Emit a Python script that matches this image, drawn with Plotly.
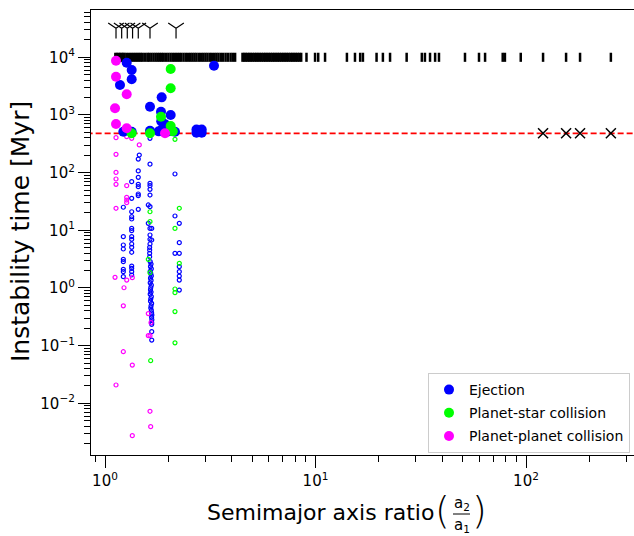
import plotly.graph_objects as go

# ---------------- data ----------------
THRESHOLD = 480          # Myr, red dashed line
STABLE_T = 1.0e4         # systems stable for the full run
BEYOND_T = 3.2e4         # systems marked with tri-down symbols

stable_x = [1.12, 1.14, 1.16, 1.18, 1.20, 1.22, 1.24, 1.27, 1.30, 1.33, 1.36, 1.39,
            1.42, 1.45, 1.48, 1.51, 1.55, 1.59, 1.62, 1.66, 1.70, 1.74, 1.78, 1.82,
            1.86, 1.90, 1.95, 2.00, 2.05, 2.10, 2.15, 2.20, 2.25, 2.30, 2.36, 2.42,
            2.48, 2.54, 2.60, 2.66, 2.72, 2.79, 2.86, 2.93, 3.00, 3.07, 3.15, 3.22,
            3.30, 3.38, 3.46, 3.55, 3.64, 3.74, 3.84, 3.95, 4.05, 4.15,
            4.50, 4.58, 4.66, 4.75, 4.84, 4.93, 5.03, 5.13, 5.23, 5.33, 5.44, 5.55,
            5.66, 5.77, 5.88, 6.00, 6.12, 6.24, 6.36, 6.49, 6.62, 6.75, 6.88, 7.02,
            7.16, 7.30, 7.45, 7.60, 7.75, 7.90, 8.06, 8.22, 8.38, 8.55,
            9.06, 9.95, 10.3, 11.1,
            14.1, 15.4, 16.3, 16.8, 19.5, 20.9, 22.6, 27.1, 32.0, 33.1, 35.0, 37.0,
            38.6, 51.3, 59.8, 63.9, 77.5, 79.4, 94.4, 120.5, 155, 180.6, 253]

beyond_x = [1.128, 1.20, 1.276, 1.352, 1.439, 1.636, 2.175]

wide_x = [120.5, 155, 180.6, 253]
wide_t = [481, 481, 481, 481]

# filled circles (final instability)
ej_x = [1.268, 1.339, 1.339, 1.178, 3.295, 1.859, 1.636, 1.845, 2.051, 1.85, 1.93,
        1.88, 1.222, 1.339, 1.636, 2.150, 2.72, 2.72, 2.88, 2.88, 1.80, 2.00]
ej_t = [8060, 6020, 4160, 3310, 7140, 2020, 1390, 1140, 1000, 780, 690,
        590, 513, 513, 530, 513, 560, 490, 560, 490, 520, 520]

ps_x = [2.051, 2.051, 1.845, 2.051, 1.339, 1.636, 2.10]
ps_t = [6270, 2900, 934, 644, 481, 481, 520]

pp_x = [1.128, 1.128, 1.268, 1.116, 1.128, 1.268, 1.928]
pp_t = [8730, 4610, 2280, 1305, 697, 588, 481]

# open circles (earlier events)
ej_open_x = [1.455, 1.439, 1.439, 1.439, 1.439, 1.439, 1.439, 1.439, 1.439,
             1.339, 1.339, 1.339, 1.339, 1.339, 1.339, 1.339, 1.339, 1.339, 1.339,
             1.339, 1.339, 1.339, 1.339, 1.339, 1.339,
             1.222, 1.222, 1.222, 1.222, 1.222, 1.222, 1.222, 1.222, 1.222,
             1.636, 1.636, 1.636, 1.636, 1.636, 1.636, 1.606, 1.636, 1.606, 1.636,
             1.667, 1.636, 1.636, 1.667, 1.636, 1.630, 1.630, 1.630, 1.630,
             1.640, 1.655, 1.645, 1.660, 1.640, 1.650, 1.660, 1.645, 1.655, 1.640,
             1.660, 1.650, 1.645, 1.655, 1.640, 1.660, 1.650, 1.645, 1.665, 1.655,
             1.650, 1.660, 1.665, 1.670, 1.665, 1.670,
             2.150, 2.150, 2.254, 2.254, 2.150, 2.254, 2.254, 2.254, 2.254, 2.254,
             2.254, 1.667, 1.667, 1.667, 1.667]
ej_open_t = [202, 172, 107, 83, 62.8, 57.0, 42.6, 39.8, 23.1,
             69.7, 35.9, 21.0, 17.2, 15.7, 10.8, 9.85, 7.75, 6.98, 5.79,
             5.07, 4.16, 2.40, 2.19, 1.92, 1.68,
             25.1, 7.75, 5.56, 4.74, 3.14, 2.86, 2.11, 1.92, 1.57,
             394, 140, 65.3, 59.4, 51.4, 40.9, 27.5, 25.7, 13.2, 10.8,
             10.8, 8.29, 6.98, 6.79, 5.79, 5.07, 4.56, 3.99, 3.48,
             2.86, 2.60, 2.35, 2.15, 1.95, 1.78, 1.62, 1.48, 1.35, 1.23,
             1.12, 1.02, 0.93, 0.85, 0.78, 0.71, 0.65, 0.59, 0.54, 0.49,
             0.45, 0.41, 0.37, 0.34, 0.31, 0.28,
             94.7, 17.7, 13.2, 6.10, 3.99, 3.99, 2.34, 1.92, 1.61, 1.37,
             0.92, 0.25, 0.234, 0.175, 0.125]

ps_open_x = [2.15, 1.636, 1.636, 2.254, 2.15, 1.606, 1.636, 2.254, 2.15, 2.15,
             2.15, 2.15, 1.648]
ps_open_t = [378, 21.0, 14.1, 24.1, 10.8, 3.14, 1.84, 2.68, 0.96, 0.83,
             0.39, 0.112, 0.0548]

pp_open_x = [1.128, 1.268, 1.339, 1.455, 1.128, 1.128, 1.128, 1.128, 1.268,
             1.268, 1.268, 1.268, 1.128, 1.116, 1.268, 1.348, 1.231, 1.222,
             1.606, 1.654, 1.606, 1.636, 1.222, 1.348, 1.128, 1.636, 1.648,
             1.348]
pp_open_t = [404, 420, 394, 302, 208, 101, 77.6, 62.8, 59.4,
             37.3, 33.5, 30.1, 24.1, 1.53, 1.37, 1.51, 1.01, 0.49,
             0.36, 0.25, 0.149, 0.149, 0.0785, 0.0461, 0.0208, 0.00728, 0.00394,
             0.00275]

series_names = ["Ejection", "Planet-star collision", "Planet-planet collision"]
series_colors = ["#0000ff", "#00ff00", "#ff00ff"]

y_tick_vals = [1e-2, 1e-1, 1e0, 1e1, 1e2, 1e3, 1e4]
y_tick_text = ["10<sup>\u22122</sup>", "10<sup>\u22121</sup>", "10<sup>0</sup>",
               "10<sup>1</sup>", "10<sup>2</sup>", "10<sup>3</sup>", "10<sup>4</sup>"]
x_tick_vals = [1, 10, 100]
x_tick_text = ["10<sup>0</sup>", "10<sup>1</sup>", "10<sup>2</sup>"]

# ---------------- figure ----------------
W, H = 634, 536
ML, MR, MT, MB = 91, 0, 10, 81
FONT = "DejaVu Sans"

fig = go.Figure()

# threshold line
fig.add_trace(go.Scatter(x=[0.5, 1000], y=[THRESHOLD, THRESHOLD], mode="lines",
                         line=dict(color="#ff0000", width=1.6, dash="6px,3px"),
                         showlegend=False, hoverinfo="skip"))

# stable systems
fig.add_trace(go.Scatter(x=stable_x, y=[STABLE_T] * len(stable_x), mode="markers",
                         marker=dict(symbol="line-ns", size=6.5, color="black",
                                     line=dict(color="black", width=2.5)),
                         showlegend=False))
fig.add_trace(go.Scatter(x=beyond_x, y=[BEYOND_T] * len(beyond_x), mode="markers",
                         marker=dict(symbol="y-down", size=13, color="black",
                                     line=dict(color="black", width=1.2)),
                         showlegend=False))
fig.add_trace(go.Scatter(x=wide_x, y=wide_t, mode="markers",
                         marker=dict(symbol="x-thin", size=10, color="black",
                                     line=dict(color="black", width=1.5)),
                         showlegend=False))

open_sets = [(ej_open_x, ej_open_t), (ps_open_x, ps_open_t), (pp_open_x, pp_open_t)]
for (ox, ot), c in zip(open_sets, series_colors):
    fig.add_trace(go.Scatter(x=ox, y=ot, mode="markers",
                             marker=dict(symbol="circle-open", size=4, color=c,
                                         line=dict(color=c, width=1.2)),
                             showlegend=False))

filled_sets = [(ej_x, ej_t), (ps_x, ps_t), (pp_x, pp_t)]
for i, ((fx, ft), c, n) in enumerate(zip(filled_sets, series_colors, series_names)):
    fig.add_trace(go.Scatter(x=fx, y=ft, mode="markers", name=n, legendgroup=str(i),
                             marker=dict(symbol="circle", size=10, color=c,
                                         line=dict(width=0))))

x_minor = [0.9] + [k for k in range(2, 10)] + [10 * k for k in range(2, 10)] + [200, 300]
y_minor = [m * 10 ** e for e in range(-3, 5) for m in range(2, 10)]

axis_common = dict(type="log", showgrid=False, zeroline=False, showline=True,
                   linecolor="black", linewidth=1.2, ticks="outside", ticklen=12,
                   tickwidth=1.3, tickcolor="black",
                   tickfont=dict(family=FONT, size=15, color="black"))

fig.update_xaxes(**axis_common, range=[-0.0665, 2.513], mirror=True,
                 tickmode="array", tickvals=x_tick_vals, ticktext=x_tick_text,
                 minor=dict(ticks="outside", ticklen=6, tickwidth=1, tickcolor="black",
                            tickmode="array", tickvals=x_minor, showgrid=False))
fig.update_yaxes(**axis_common, range=[-2.896, 4.82],
                 tickmode="array", tickvals=y_tick_vals, ticktext=y_tick_text,
                 minor=dict(ticks="outside", ticklen=6, tickwidth=1, tickcolor="black",
                            tickmode="array", tickvals=y_minor, showgrid=False))

pw = W - ML - MR
ph = H - MT - MB


def px(xp):
    return (xp - ML) / pw


def py(yp):
    return (H - MB - yp) / ph


annotations = [
    dict(text="Semimajor axis ratio", x=px(320.5), y=py(512), xref="paper", yref="paper",
         showarrow=False, xanchor="center", yanchor="middle",
         font=dict(family=FONT, size=22, color="black")),
    dict(text="(", x=px(442.5), y=py(510), xref="paper", yref="paper",
         showarrow=False, xanchor="center", yanchor="middle",
         font=dict(family=FONT, size=38, color="black", weight=200)),
    dict(text=")", x=px(479), y=py(510), xref="paper", yref="paper",
         showarrow=False, xanchor="center", yanchor="middle",
         font=dict(family=FONT, size=38, color="black", weight=200)),
    dict(text="a<sub>2</sub>", x=px(461.5), y=py(503), xref="paper", yref="paper",
         showarrow=False, xanchor="center", yanchor="middle",
         font=dict(family=FONT, size=15, color="black")),
    dict(text="a<sub>1</sub>", x=px(461.5), y=py(525), xref="paper", yref="paper",
         showarrow=False, xanchor="center", yanchor="middle",
         font=dict(family=FONT, size=15, color="black")),
    dict(text="Instability time [Myr]", x=px(21), y=py(232), xref="paper", yref="paper",
         showarrow=False, xanchor="center", yanchor="middle", textangle=-90,
         font=dict(family=FONT, size=25, color="black")),
]

shapes = [dict(type="line", xref="paper", yref="paper", x0=px(453), x1=px(470),
               y0=py(514), y1=py(514), line=dict(color="black", width=1))]

fig.update_layout(
    width=W, height=H, template="none",
    margin=dict(l=ML, r=MR, t=MT, b=MB, pad=0),
    paper_bgcolor="white", plot_bgcolor="white",
    annotations=annotations, shapes=shapes,
    legend=dict(x=px(630), y=py(373), xanchor="right", yanchor="top",
                bgcolor="rgba(255,255,255,0.8)", bordercolor="#cccccc", borderwidth=1,
                font=dict(family=FONT, size=14, color="black"),
                traceorder="grouped", tracegroupgap=2),
    font=dict(family=FONT),
)

fig.write_html("out.html")
